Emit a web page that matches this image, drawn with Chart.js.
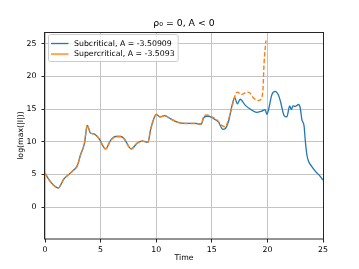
<!DOCTYPE html>
<html>
<head>
<meta charset="utf-8">
<script src="https://cdn.jsdelivr.net/npm/chart.js@4.4.0/dist/chart.umd.min.js"></script>
<style>
  html, body { margin: 0; padding: 0; background: #fff; }
</style>
</head>
<body>
<canvas id="chart1" width="359" height="269"></canvas>
<script>
// values
const timeSub = [0, 0.35, 0.8, 1.2, 1.45, 1.7, 2.15, 2.6, 2.9, 3.2, 3.55, 3.8, 4.1, 4.4, 4.85, 5.45, 5.9, 6.35, 6.8, 7.1, 7.75, 8.3, 8.75, 9.25, 9.5, 9.8, 10.0, 10.35, 10.75, 11.3, 11.9, 12.6, 13.5, 14.05, 14.25, 14.5, 14.75, 15.2, 15.6, 16.0, 16.2, 16.5, 16.8, 17.05, 17.3, 17.55, 18.0, 18.45, 19.0, 19.5, 19.8, 19.95, 20.1, 20.4, 20.7, 21.0, 21.2, 21.5, 21.75, 22.0, 22.15, 22.3, 22.5, 22.8, 22.95, 23.1, 23.3, 23.4, 23.55, 23.7, 24.0, 24.3, 24.75, 25.0];
const logSub = [5.2, 4.2, 3.3, 2.9, 3.5, 4.3, 5.0, 5.7, 6.3, 8.0, 9.8, 12.5, 11.3, 11.2, 10.5, 8.9, 10.2, 10.8, 10.8, 10.5, 8.9, 9.8, 10.1, 9.9, 11.9, 13.6, 14.2, 13.8, 14.0, 13.5, 13.0, 12.8, 12.8, 12.7, 13.6, 13.9, 13.9, 13.5, 13.0, 11.9, 12.0, 13.1, 15.4, 16.8, 15.8, 16.5, 15.6, 15.0, 14.5, 14.7, 14.9, 14.2, 14.9, 17.2, 17.7, 17.1, 16.0, 14.0, 13.8, 15.5, 14.9, 15.5, 15.4, 15.7, 15.2, 13.4, 12.4, 10.3, 8.0, 7.0, 6.2, 5.5, 4.7, 4.1];

const timeSuper = [0, 0.35, 0.8, 1.2, 1.45, 1.7, 2.15, 2.6, 2.9, 3.2, 3.55, 3.8, 4.1, 4.4, 4.85, 5.45, 5.9, 6.35, 6.8, 7.1, 7.75, 8.3, 8.75, 9.25, 9.5, 9.8, 10.0, 10.35, 10.75, 11.3, 11.9, 12.6, 13.5, 14.05, 14.3, 14.6, 14.9, 15.5, 15.9, 16.2, 16.5, 16.95, 17.2, 17.35, 17.6, 17.9, 18.15, 18.4, 18.75, 19.2, 19.45, 19.6, 19.7, 19.87];
const logSuper = [5.2, 4.2, 3.3, 2.9, 3.5, 4.3, 5.0, 5.7, 6.3, 8.0, 9.8, 12.5, 11.3, 11.2, 10.5, 8.9, 10.2, 10.8, 10.8, 10.5, 8.9, 9.8, 10.1, 9.9, 11.9, 13.6, 14.2, 13.8, 14.0, 13.5, 13.0, 12.8, 12.8, 12.7, 14.0, 14.1, 13.9, 13.3, 12.5, 12.3, 13.4, 16.2, 17.5, 17.6, 17.2, 17.4, 17.6, 17.5, 16.7, 16.3, 16.6, 18.0, 22.0, 25.5];

const xTicks = [0, 5, 10, 15, 20, 25];
const yTicks = [0, 5, 10, 15, 20, 25];

const labelSub = 'Subcritical, A = -3.50909';
const labelSuper = 'Supercritical, A = -3.5093';

const family = "'DejaVu Sans', sans-serif";
const tickFont = { family: family, size: 7.8 };

function toPoints(xs, ys) {
  return xs.map((x, i) => ({ x: x, y: ys[i] }));
}

// box round the plot, like matplotlib spines
const framePlugin = {
  id: 'frame',
  afterDraw(chart) {
    const { ctx, chartArea: a } = chart;
    ctx.save();
    ctx.strokeStyle = '#262626';
    ctx.lineWidth = 1;
    ctx.strokeRect(Math.round(a.left) - 0.5, Math.round(a.top) + 0.5,
      Math.round(a.right - a.left) + 1, Math.round(a.bottom - a.top) - 0.5);
    ctx.restore();
  }
};

// legend with a frame in the upper left corner
const boxLegend = {
  id: 'boxLegend',
  afterDraw(chart) {
    const { ctx, chartArea: a } = chart;
    const sets = chart.data.datasets;
    ctx.save();
    ctx.font = "7.8px 'DejaVu Sans'";
    const textW = Math.max(...sets.map(d => ctx.measureText(d.label).width));
    const x0 = a.left + 3.5, y0 = a.top + 2.5;
    const w = 25.5 + textW + 3.5, h = 27, r = 2;
    ctx.beginPath();
    ctx.moveTo(x0 + r, y0);
    ctx.arcTo(x0 + w, y0, x0 + w, y0 + h, r);
    ctx.arcTo(x0 + w, y0 + h, x0, y0 + h, r);
    ctx.arcTo(x0, y0 + h, x0, y0, r);
    ctx.arcTo(x0, y0, x0 + w, y0, r);
    ctx.closePath();
    ctx.fillStyle = 'rgba(255,255,255,0.8)';
    ctx.fill();
    ctx.strokeStyle = '#cccccc';
    ctx.lineWidth = 1;
    ctx.stroke();
    sets.forEach((d, i) => {
      const yy = y0 + 9 + i * 10.6;
      ctx.beginPath();
      ctx.moveTo(x0 + 2.5, yy);
      ctx.lineTo(x0 + 20, yy);
      ctx.strokeStyle = i === 0 ? '#1f77b4' : 'rgba(255,127,14,0.7)';
      ctx.lineWidth = i === 0 ? 1.3 : 2;
      ctx.stroke();
      ctx.fillStyle = '#000';
      ctx.textBaseline = 'middle';
      ctx.fillText(d.label, x0 + 25.5, yy);
    });
    ctx.restore();
  }
};

const ctx = document.getElementById('chart1').getContext('2d');
const chart1 = new Chart(ctx, {
  type: 'line',
  data: {
    datasets: [
      {
        label: labelSub,
        data: toPoints(timeSub, logSub),
        borderColor: '#1f77b4',
        borderWidth: 1.3,
        pointRadius: 0,
        cubicInterpolationMode: 'monotone',
        order: 2,
      },
      {
        label: labelSuper,
        data: toPoints(timeSuper, logSuper),
        borderColor: '#ff7f0e',
        borderWidth: 1.4,
        borderDash: [4.5, 2.2],
        pointRadius: 0,
        cubicInterpolationMode: 'monotone',
        order: 1,
      },
    ],
  },
  options: {
    responsive: false,
    animation: false,
    layout: { padding: { left: 0, right: 36, top: 0, bottom: 0 } },
    plugins: {
      legend: { display: false },
      tooltip: { enabled: false },
      title: {
        display: true,
        fullSize: false,
        text: 'ρ₀ = 0, A < 0',
        color: '#000',
        font: { family: family, size: 9.35, weight: 'normal' },
        padding: { top: 18.3, bottom: 2.5 },
      },
    },
    scales: {
      x: {
        type: 'linear',
        min: 0,
        max: 25,
        afterBuildTicks: s => { s.ticks = xTicks.map(v => ({ value: v })); },
        afterFit: s => { s.height = 30; },
        grid: { color: '#c4c4c4', lineWidth: 1, tickLength: 3.5, tickColor: '#262626' },
        border: { display: false },
        ticks: { color: '#000', font: tickFont, padding: 2.5, maxRotation: 0 },
        title: { display: true, text: 'Time', color: '#000', font: tickFont, padding: { top: 0, bottom: 6.3 } },
      },
      y: {
        type: 'linear',
        min: -4.9,
        max: 26.8,
        afterBuildTicks: s => { s.ticks = yTicks.map(v => ({ value: v })); },
        afterFit: s => { s.width = 45; },
        grid: { color: '#c4c4c4', lineWidth: 1, tickLength: 3.5, tickColor: '#262626' },
        border: { display: false },
        ticks: { color: '#000', font: tickFont, padding: 5 },
        title: { display: true, text: 'log(max(|I|))', color: '#000', font: tickFont, padding: { top: 16, bottom: 0 } },
      },
    },
  },
  plugins: [framePlugin, boxLegend],
});
</script>
</body>
</html>
